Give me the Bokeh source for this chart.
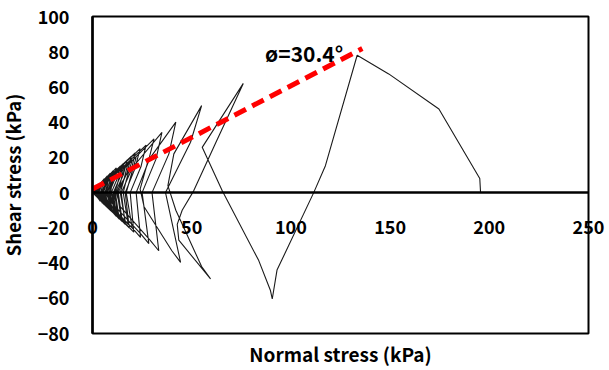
import math

from bokeh.core.properties import value
from bokeh.embed import file_html
from bokeh.models import FixedTicker, LinearAxis, Range1d
from bokeh.plotting import figure
from bokeh.resources import INLINE

# Cyclic stress path: normal stress (kPa) and shear stress (kPa), in test order
normal_stress = [
    195.6, 195.2, 174.6, 149.3, 133.4,
    117.4, 111.5, 93.0, 90.6,
    89.7, 83.8, 65.4, 55.3, 76.0,
    62.0, 51.0, 45.2, 42.7, 43.5, 59.5,
    55.0, 42.0, 38.0, 41.0, 55.0,
    49.4, 36.8, 44.4,
    40.0, 26.0, 24.0, 28.0, 42.0,
    38.5, 30.0, 33.4,
    29.0, 14.0, 12.0, 17.0, 35.0,
    32.0, 25.0, 28.4,
    24.0, 9.0, 7.0, 10.0, 31.0,
    28.0, 22.0, 24.2,
    20.0, 6.0, 4.5, 6.5, 27.0,
    24.5, 19.0, 20.8,
    17.0, 4.0, 3.0, 4.5, 24.0,
    21.5, 16.5, 18.5,
    15.0, 3.0, 2.5, 3.5, 21.5,
    19.5, 14.5, 16.5,
    13.5, 2.5, 2.0, 3.0, 19.5,
    17.5, 13.0, 15.0,
    12.0, 2.0, 1.5, 2.5, 17.5,
    15.5, 11.5, 13.5,
    11.0, 1.5, 1.2, 2.0, 15.5,
    14.0, 10.5, 12.0,
    10.0, 1.5, 1.0, 2.0, 14.0,
    12.5, 9.5, 11.0,
    9.0, 1.2, 1.0, 1.5, 12.5,
    11.0, 8.5, 10.0,
    8.0, 1.0, 0.8, 1.5, 11.0,
    10.0, 7.5, 9.0,
    7.0, 1.0, 0.8, 1.2, 9.5,
    8.5, 6.5, 8.0,
    6.5, 1.0, 0.5, 1.0, 8.0,
    7.0, 5.5, 7.0,
    5.5, 0.8, 0.5, 1.0, 7.0,
    6.0, 4.5, 6.0,
    4.5, 0.5, 0.5, 1.0, 6.0,
    5.0, 4.0, 5.0,
    4.0, 0.5, 5.0,
    4.0, 3.0, 4.0,
    3.0, 0.5, 4.0,
    3.5, 2.5, 3.0, 0.5, 2.5, 2.0, 2.0, 0.3,
    1.0, 12.0, 10.0, 8.0, 13.5, 11.0, 0.8,
    1.0, 10.5, 9.0, 7.0, 12.0, 9.5, 0.6,
    0.8, 9.0, 7.5, 6.0, 10.0, 8.0, 0.5,
    0.6, 7.5, 6.5, 5.0, 8.5, 6.5, 0.4,
    0.5, 6.0, 5.0, 4.0, 7.0, 5.5, 0.3,
    0.4, 5.0, 4.0, 3.0, 5.5, 4.5, 0.3,
    0.3, 4.0, 3.0, 2.5, 4.5, 3.5, 0.2,
    0.3, 3.0, 2.5, 2.0, 3.5, 2.5, 0.2,
    0.5, 11.0, 9.5, 9.0, 12.5, 10.0, 0.4,
    0.4, 8.5, 7.0, 6.5, 9.5, 7.5, 0.3,
    0.3, 6.5, 5.5, 4.5, 7.5, 6.0, 0.2,
    0.5, 22.0, 19.0, 17.0, 20.0, 1.0,
    0.4, 20.0, 17.0, 15.5, 18.0, 0.5,
    0.4, 18.0, 15.5, 14.0, 16.5, 0.4,
    0.3, 16.0, 14.0, 12.5, 14.5, 0.3,
    0.3, 14.5, 12.5, 11.0, 13.0, 0.2,
]
shear_stress = [
    0.0, 8.0, 47.5, 67.4, 78.0,
    15.3, 0.0, -44.0, -60.4,
    -55.6, -38.6, 1.0, 25.7, 62.0,
    28.0, 1.0, -10.0, -18.0, -27.0, -49.0,
    -42.0, -10.0, 4.0, 22.0, 49.4,
    28.6, 0.0, -39.6,
    -33.0, -8.0, 2.0, 18.0, 40.0,
    22.0, 0.0, -33.0,
    -27.0, -8.0, 0.0, 10.0, 34.2,
    19.0, 0.0, -29.0,
    -23.0, -5.0, 0.0, 7.0, 30.5,
    17.0, 0.0, -25.4,
    -20.0, -4.0, 0.0, 5.0, 27.0,
    15.0, 0.0, -22.5,
    -18.0, -3.0, 0.0, 4.0, 25.0,
    14.0, 0.0, -20.0,
    -16.0, -2.5, 0.0, 3.5, 22.5,
    12.5, 0.0, -18.0,
    -14.5, -2.0, 0.0, 3.0, 20.5,
    11.5, 0.0, -16.5,
    -13.0, -2.0, 0.0, 2.5, 18.5,
    10.0, 0.0, -15.0,
    -12.0, -1.5, 0.0, 2.0, 16.5,
    9.0, 0.0, -13.5,
    -11.0, -1.5, 0.0, 2.0, 15.0,
    8.0, 0.0, -12.0,
    -10.0, -1.2, 0.0, 1.5, 13.5,
    7.0, 0.0, -11.0,
    -9.0, -1.0, 0.0, 1.5, 12.0,
    6.5, 0.0, -10.0,
    -8.0, -1.0, 0.0, 1.2, 10.5,
    5.5, 0.0, -9.0,
    -7.0, -1.0, 0.0, 1.0, 9.0,
    5.0, 0.0, -8.0,
    -6.0, -0.8, 0.0, 1.0, 7.5,
    4.0, 0.0, -7.0,
    -5.0, -0.5, 0.0, 1.0, 6.5,
    3.5, 0.0, -6.0,
    -4.0, 0.0, 5.5,
    3.0, 0.0, -5.0,
    -3.5, 0.0, 4.5,
    2.5, 0.0, -3.5, 0.0, 3.0, 0.0, -2.0, 0.0,
    0.8, 14.0, 6.0, -1.0, -14.5, -1.0, 0.0,
    0.8, 12.5, 5.0, -1.0, -13.0, -1.0, 0.0,
    0.6, 11.0, 4.5, -1.0, -11.0, -0.8, 0.0,
    0.5, 9.5, 4.0, -0.8, -9.5, -0.6, 0.0,
    0.4, 8.0, 3.5, -0.6, -8.0, -0.5, 0.0,
    0.3, 6.5, 2.5, -0.5, -6.5, -0.4, 0.0,
    0.3, 5.0, 2.0, -0.4, -5.0, -0.3, 0.0,
    0.2, 4.0, 1.5, -0.3, -4.0, -0.2, 0.0,
    0.5, 12.0, 3.0, -2.0, -12.5, -1.0, 0.0,
    0.4, 9.5, 2.5, -1.5, -10.0, -0.8, 0.0,
    0.3, 7.5, 2.0, -1.0, -7.5, -0.5, 0.0,
    0.4, 20.0, 8.0, 0.0, -20.0, -0.5,
    0.3, 18.5, 7.0, 0.0, -18.0, -0.4,
    0.3, 17.0, 6.0, 0.0, -16.5, -0.3,
    0.2, 15.5, 5.0, 0.0, -15.0, -0.2,
    0.2, 14.0, 4.5, 0.0, -13.5, 0.0,
]

# Failure envelope: friction angle and intercept
friction_angle_deg = 30.4
envelope_intercept = 2.0
envelope_sigma = [0.0, 136.0]

x_ticks = [0, 50, 100, 150, 200, 250]
y_ticks = [100, 80, 60, 40, 20, 0, -20, -40, -60, -80]
x_bounds = (0, 250)
y_bounds = (-80, 100)

FONT = "Noto Sans CJK KR"

slope = math.tan(math.radians(friction_angle_deg))
envelope_tau = [envelope_intercept + slope * s for s in envelope_sigma]

# The frame fills the whole canvas; the plot box is drawn inside it, so that
# axis labels on the zero lines are never clipped at the box edges.
W, H = 609, 370
box_left, box_right, box_top, box_bottom = 92, 588, 16, 333
sx = (box_right - box_left) / (x_bounds[1] - x_bounds[0])
sy = (box_bottom - box_top) / (y_bounds[1] - y_bounds[0])
x_range = Range1d(x_bounds[0] - box_left / sx, x_bounds[1] + (W - box_right) / sx)
y_range = Range1d(y_bounds[0] - (H - box_bottom) / sy, y_bounds[1] + box_top / sy)

p = figure(
    width=W, height=H, x_range=x_range, y_range=y_range,
    output_backend="svg", toolbar_location=None,
    min_border=0, min_border_left=0, min_border_right=0,
    min_border_top=0, min_border_bottom=0,
)
p.background_fill_color = "white"
p.border_fill_color = "white"
p.outline_line_color = None
p.xgrid.visible = False
p.ygrid.visible = False

# plot box
p.quad(left=[x_bounds[0]], right=[x_bounds[1]], bottom=[y_bounds[0]], top=[y_bounds[1]],
       fill_color=None, line_color="black", line_width=2)

# y axis pinned at zero normal stress
ya = p.yaxis[0]
ya.fixed_location = 0
ya.bounds = y_bounds
ya.ticker = FixedTicker(ticks=y_ticks)
ya.axis_line_width = 2.5
ya.axis_line_color = "black"
ya.major_tick_line_color = None
ya.minor_tick_line_color = None
ya.major_label_text_font = FONT
ya.major_label_text_font_style = "bold"
ya.major_label_text_font_size = "18px"
ya.major_label_text_color = "black"
ya.major_label_standoff = 17
ya.axis_label = "Shear stress (kPa)"
ya.axis_label_text_font = FONT
ya.axis_label_text_font_style = "bold"
ya.axis_label_text_font_size = "18.5px"
ya.axis_label_text_color = "black"
ya.axis_label_standoff = 9

# x axis pinned at zero shear stress
xa = p.xaxis[0]
xa.fixed_location = 0
xa.bounds = x_bounds
xa.ticker = FixedTicker(ticks=x_ticks)
xa.axis_line_width = 2.5
xa.axis_line_color = "black"
xa.major_tick_line_color = None
xa.minor_tick_line_color = None
xa.major_label_text_font = FONT
xa.major_label_text_font_style = "bold"
xa.major_label_text_font_size = "18px"
xa.major_label_text_color = "black"
xa.major_label_standoff = 21

# x axis title under the plot box
title_axis = LinearAxis(
    fixed_location=y_bounds[0],
    bounds=x_bounds,
    ticker=FixedTicker(ticks=[]),
    axis_line_color=None,
    major_tick_line_color=None,
    minor_tick_line_color=None,
    major_label_text_font_size="0px",
    major_label_standoff=0,
    axis_label="Normal stress (kPa)",
    axis_label_text_font=FONT,
    axis_label_text_font_style="bold",
    axis_label_text_font_size="19px",
    axis_label_text_color="black",
    axis_label_standoff=6,
)
p.add_layout(title_axis, "below")

# stress path
p.line(normal_stress, shear_stress, line_color="#1a1a1a", line_width=1.1)

# failure envelope
p.line(envelope_sigma, envelope_tau, line_color="#ff0000", line_width=5, line_dash="13 7")

p.text(x=[87.0], y=[79.5], text=[f"ø={friction_angle_deg}°"],
       text_font=value(FONT), text_font_style="bold", text_font_size="21px",
       text_color="black", text_align="left", text_baseline="alphabetic")

open("out.html", "w").write(file_html(p, INLINE))
